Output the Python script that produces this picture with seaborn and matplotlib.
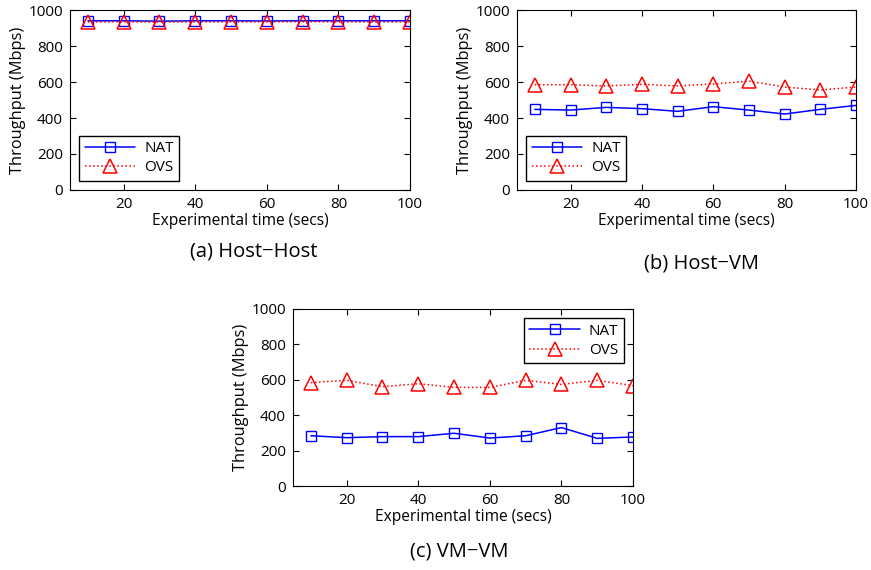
import numpy as np
import pandas as pd
import matplotlib
matplotlib.use("Agg")
import matplotlib.pyplot as plt
import seaborn as sns

sns.set_theme(style="ticks")
plt.rcParams['font.family'] = ['Open Sans', 'DejaVu Sans']
plt.rcParams['text.color'] = 'black'
plt.rcParams['axes.labelcolor'] = 'black'

# dane
czas = [10, 20, 30, 40, 50, 60, 70, 80, 90, 100]

hh_nat = [940, 940, 938, 940, 940, 939, 940, 940, 940, 940]
hh_ovs = [934, 934, 933, 934, 934, 934, 935, 934, 934, 934]

hv_nat = [448, 444, 459, 452, 437, 463, 444, 422, 448, 470]
hv_ovs = [585, 585, 578, 587, 578, 589, 605, 572, 556, 572]

vv_nat = [284, 273, 279, 279, 298, 271, 284, 330, 269, 277]
vv_ovs = [584, 597, 561, 578, 557, 557, 597, 574, 597, 567]

podpisy = ['(a) Host\u2212Host', '(b) Host\u2212VM', '(c) VM\u2212VM']

W, H = 871, 570
fig = plt.figure(figsize=(W / 100, H / 100), dpi=100)


def osie(l, t, r, b):
    # pozycje w pikselach -> wspolrzedne figury
    return fig.add_axes([l / W, 1 - b / H, (r - l) / W, (b - t) / H])


def rysuj(ax, nat, ovs, loc):
    sns.lineplot(x=czas, y=nat, ax=ax, color='#0000ff', marker='s', markersize=7,
                 markerfacecolor='none', markeredgecolor='#0000ff', markeredgewidth=1,
                 linewidth=1.1, label='NAT')
    sns.lineplot(x=czas, y=ovs, ax=ax, color='#ff0000', marker='^', markersize=10,
                 markerfacecolor='none', markeredgecolor='#ff0000', markeredgewidth=1.1,
                 linewidth=1.1, linestyle=':', label='OVS')
    ax.set_xlim(5, 100)
    ax.set_ylim(0, 1000)
    ax.set_xticks([20, 40, 60, 80, 100])
    ax.set_yticks([0, 200, 400, 600, 800, 1000])
    ax.tick_params(direction='in', top=True, right=True, labelsize=11, length=4,
                   width=0.8, colors='black', pad=5)
    for s in ax.spines.values():
        s.set_visible(True)
        s.set_color('black')
        s.set_linewidth(0.8)
    ax.set_xlabel('Experimental time (secs)', fontsize=11.2, labelpad=1)
    ax.set_ylabel('Throughput (Mbps)', fontsize=11.8, labelpad=2)
    leg = ax.legend(loc=loc, fontsize=11, fancybox=False, edgecolor='black',
                    framealpha=1, handlelength=3.3, borderpad=0.35, labelspacing=0.3,
                    handletextpad=0.6, borderaxespad=0.6)
    leg.get_frame().set_linewidth(1.0)


ax1 = osie(70, 10, 410, 190)
rysuj(ax1, hh_nat, hh_ovs, 'lower left')

ax2 = osie(517, 10, 856, 190)
rysuj(ax2, hv_nat, hv_ovs, 'lower left')

ax3 = osie(293, 309, 633, 486)
rysuj(ax3, vv_nat, vv_ovs, 'upper right')

fig.text(254 / W, 1 - 252 / H, podpisy[0], ha='center', va='center', fontsize=14.5)
fig.text(701 / W, 1 - 263 / H, podpisy[1], ha='center', va='center', fontsize=14.5)
fig.text(459 / W, 1 - 552 / H, podpisy[2], ha='center', va='center', fontsize=14.5)

fig.savefig('out.png', dpi=100)
